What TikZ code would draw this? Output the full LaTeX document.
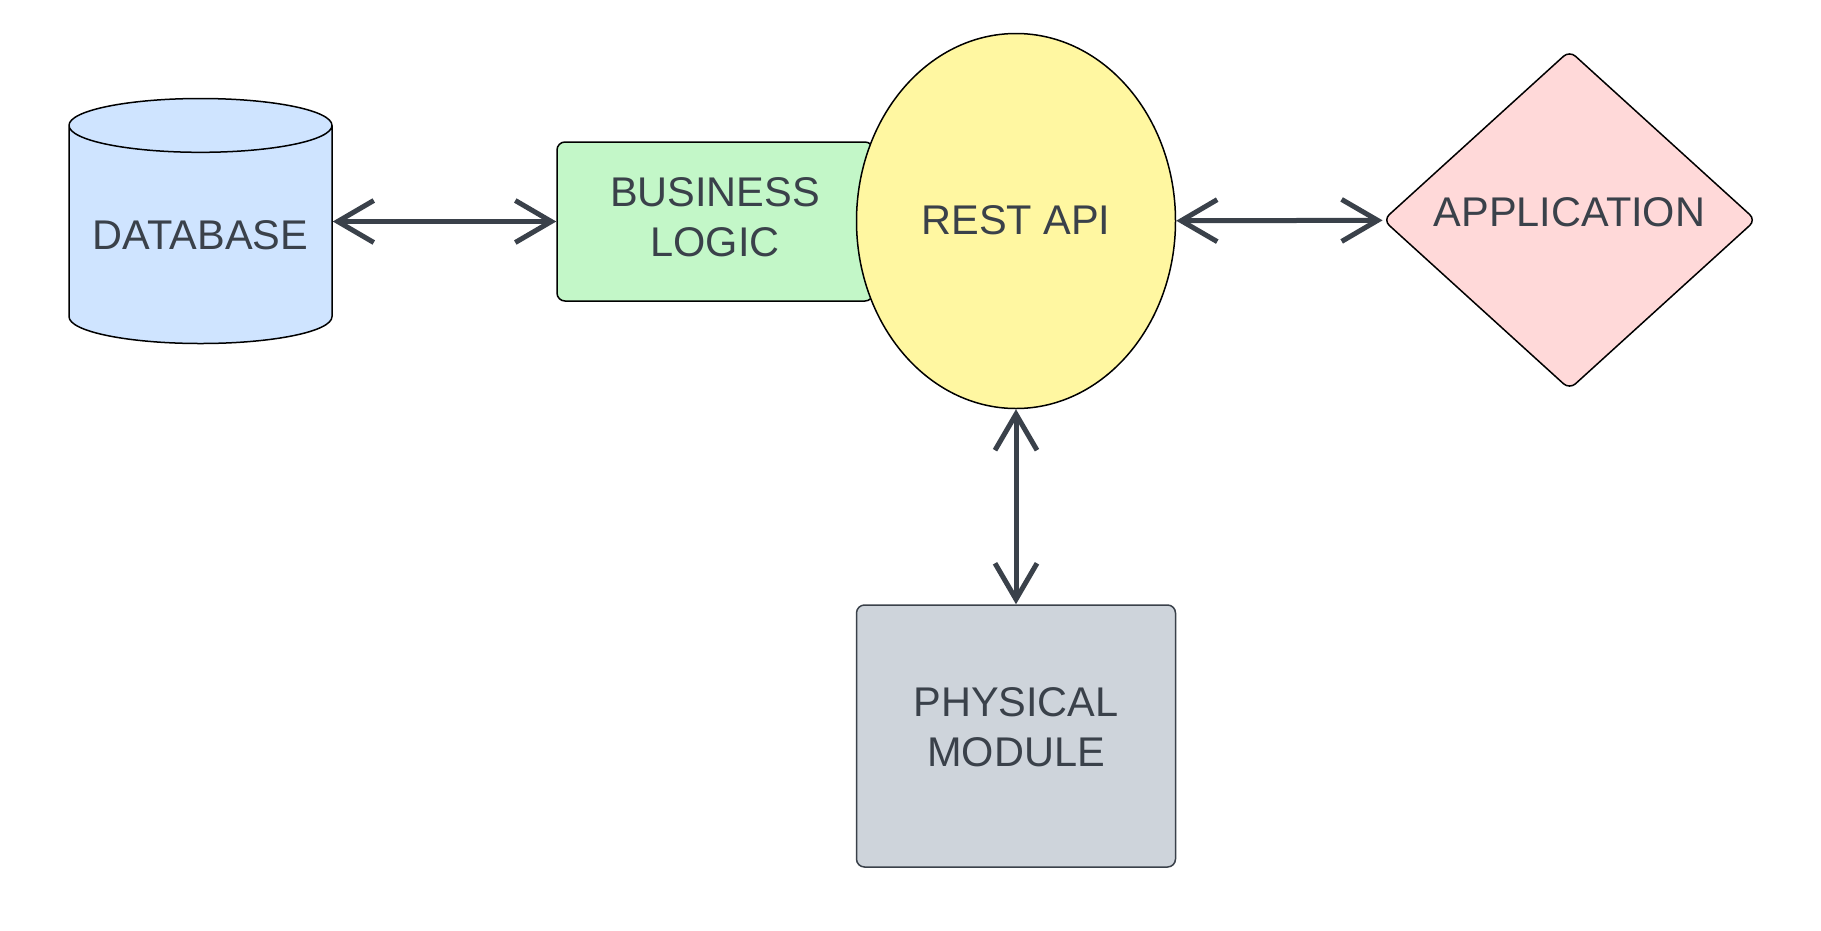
\documentclass[tikz,border=0pt]{standalone}
\usepackage{fontspec}
\setmainfont{Liberation Sans}
\usepackage{tikz}
\usetikzlibrary{arrows.meta,shapes.geometric,backgrounds}

\definecolor{ink}{HTML}{3A414A}
\definecolor{dbblue}{HTML}{CFE4FF}
\definecolor{logicgreen}{HTML}{C3F7C8}
\definecolor{apiyellow}{HTML}{FFF7A1}
\definecolor{apppink}{HTML}{FFD9D9}
\definecolor{modgray}{HTML}{CED4DB}

\tikzset{
  block/.style={draw=black, line width=1.5pt, inner sep=0pt, text=ink, align=center,
    font=\fontsize{41.5}{50}\selectfont},
  conn/.style={draw=ink, line width=5pt, {Straight Barb[length=36pt,width=42pt]}-{Straight Barb[length=36pt,width=42pt]}}
}

\begin{document}
\begin{tikzpicture}[x=1pt, y=-1pt]
  \useasboundingbox (0,0) rectangle (1821,930);
  \node (db) [block, cylinder, shape border rotate=90, aspect=0.25, fill=dbblue, anchor=shape center,
    minimum width=263pt, minimum height=245pt] at (200.5,221) {DATABASE};
  \node (bl) [block, rounded corners=8pt, fill=logicgreen,
    minimum width=316pt, minimum height=159pt] at (715,221.5)
    {\raisebox{3.5pt}{\begin{tabular}{@{}c@{}}BUSINESS\\LOGIC\end{tabular}}};
  \node (api) [block, ellipse, fill=apiyellow,
    minimum width=319pt, minimum height=375pt] at (1016,221) {\raisebox{1.5pt}{REST API}};
  \node (app) [block, diamond, rounded corners=8pt, fill=apppink,
    minimum width=373pt, minimum height=339pt] at (1569.5,220) {\raisebox{15pt}{APPLICATION}};
  \node (pm) [block, draw=ink, rounded corners=8pt, fill=modgray,
    minimum width=319pt, minimum height=262pt] at (1016,736)
    {\raisebox{-2pt}[0pt][0pt]{\begin{tabular}{@{}c@{}}PHYSICAL\\MODULE\end{tabular}}};

  \path
  (bl.west -| db.east) edge[conn] (bl.west)
  (api) edge[conn] (app)
  (api) edge[conn] (pm)
  ;
\end{tikzpicture}
\end{document}
